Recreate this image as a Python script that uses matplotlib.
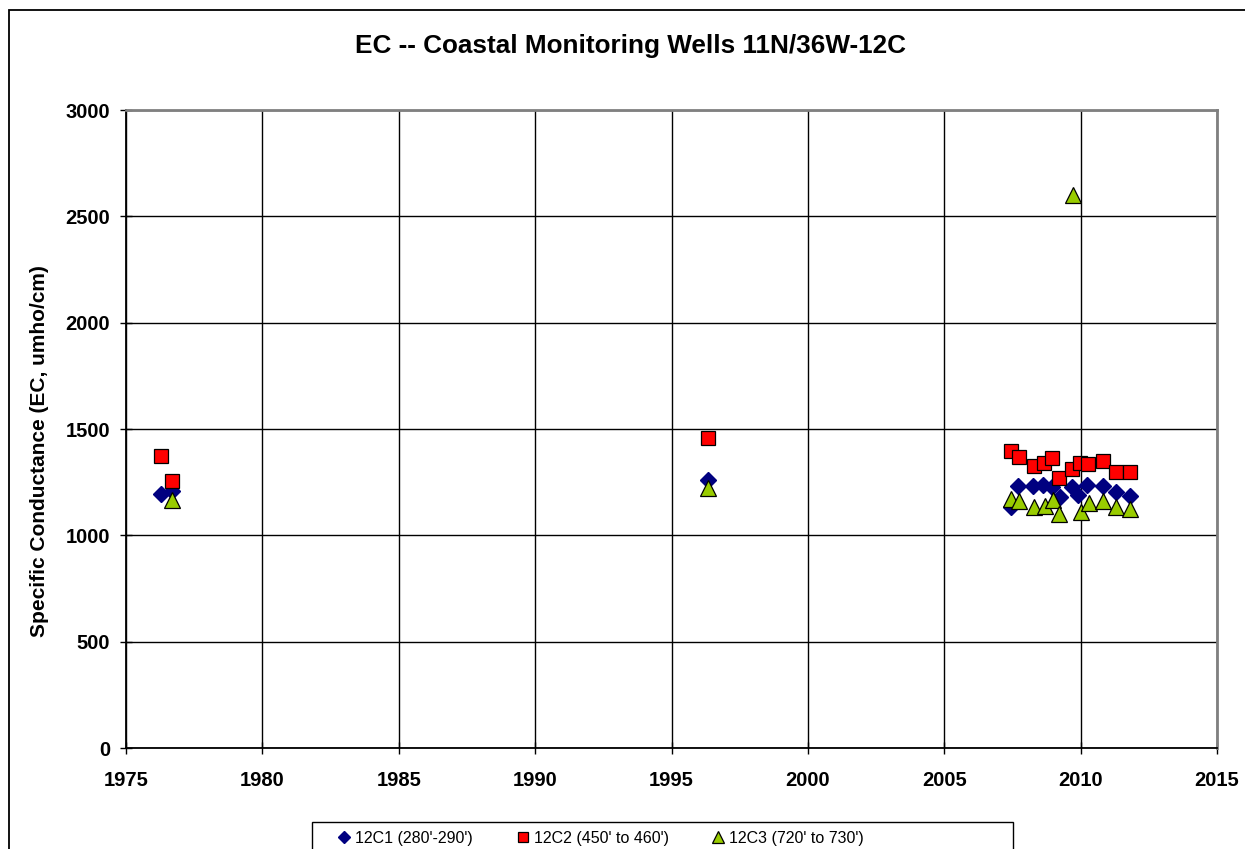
import matplotlib.pyplot as plt
from matplotlib.patches import Rectangle

plt.rcParams["font.family"] = ["Liberation Sans", "DejaVu Sans"]

# --- Data ------------------------------------------------------------------
c1_year = [1976.3, 1976.7, 1996.35, 2007.44, 2007.72, 2008.27, 2008.63, 2008.94,
           2009.24, 2009.67, 2009.91, 2010.22, 2010.83, 2011.30, 2011.81]
c1_ec = [1195, 1210, 1260, 1135, 1232, 1232, 1236, 1229,
         1180, 1226, 1189, 1236, 1232, 1205, 1185]

c2_year = [1976.27, 1976.67, 1996.35, 2007.44, 2007.74, 2008.30, 2008.67, 2008.94,
           2009.20, 2009.68, 2009.98, 2010.27, 2010.83, 2011.30, 2011.81]
c2_ec = [1373, 1257, 1456, 1398, 1370, 1327, 1341, 1362,
         1268, 1310, 1339, 1334, 1349, 1299, 1299]

c3_year = [1976.67, 1996.35, 2007.44, 2007.75, 2008.30, 2008.69, 2008.97, 2009.22,
           2009.72, 2010.00, 2010.32, 2010.83, 2011.30, 2011.81]
c3_ec = [1166, 1221, 1171, 1163, 1132, 1138, 1166, 1100,
         2600, 1111, 1153, 1161, 1132, 1122]

labels = ["12C1 (280'-290')", "12C2 (450' to 460')", "12C3 (720' to 730')"]
x_ticks = [1975, 1980, 1985, 1990, 1995, 2000, 2005, 2010, 2015]
y_ticks = [0, 500, 1000, 1500, 2000, 2500, 3000]

W, H = 1245, 849
fig = plt.figure(figsize=(W / 100, H / 100), dpi=100, facecolor="white")

# outer chart frame (runs off the right and bottom edges)
fig.patches.append(Rectangle((9 / W, -0.05), 1.1, 1 - 10 / H + 0.05,
                             transform=fig.transFigure, fill=False,
                             edgecolor="black", linewidth=1.3))

ax = fig.add_axes([126 / W, 1 - 748 / H, (1217 - 126) / W, (748 - 110) / H])

ax.plot(c1_year, c1_ec, linestyle="none", marker="D", markersize=8,
        color="#000080", markeredgecolor="#000080", label=labels[0], zorder=3)
ax.plot(c2_year, c2_ec, linestyle="none", marker="s", markersize=10,
        color="#FF0000", markeredgecolor="black", markeredgewidth=0.9,
        label=labels[1], zorder=3)
ax.plot(c3_year, c3_ec, linestyle="none", marker="^", markersize=11,
        color="#99CC00", markeredgecolor="black", markeredgewidth=0.9,
        label=labels[2], zorder=4)

ax.set_xlim(1975, 2015)
ax.set_ylim(0, 3000)
ax.set_xticks(x_ticks)
ax.set_yticks(y_ticks)
ax.grid(True, color="black", linewidth=1.0)
ax.set_axisbelow(True)

for side in ["left", "bottom"]:
    ax.spines[side].set_color("black")
    ax.spines[side].set_linewidth(1.3)
for side in ["top", "right"]:
    ax.spines[side].set_color("#808080")
    ax.spines[side].set_linewidth(2.0)

ax.tick_params(direction="inout", length=9, width=1.0, labelsize=14.5)
ax.tick_params(axis="x", pad=12)
ax.tick_params(axis="y", pad=7)
for lab in ax.get_xticklabels() + ax.get_yticklabels():
    lab.set_fontweight("bold")

fig.text(40 / W, 1 - 451 / H, "Specific Conductance (EC, umho/cm)",
         rotation=90, ha="center", va="center", fontsize=15, fontweight="bold")
fig.text(631 / W, 1 - 46 / H, "EC -- Coastal Monitoring Wells 11N/36W-12C",
         ha="center", va="center", fontsize=18.8, fontweight="bold")

# legend box
fig.patches.append(Rectangle((312 / W, -0.05), (1013 - 312) / W, 1 - 822 / H + 0.05,
                             transform=fig.transFigure, fill=False,
                             edgecolor="black", linewidth=1.0))
fig.legend(loc="center", bbox_to_anchor=(601 / W, 1 - 838 / H), ncol=3,
           frameon=False, fontsize=11.5, handlelength=0.8, handletextpad=0.3,
           columnspacing=2.7, borderpad=0, markerscale=0.75)

fig.savefig("out.png", dpi=100)
